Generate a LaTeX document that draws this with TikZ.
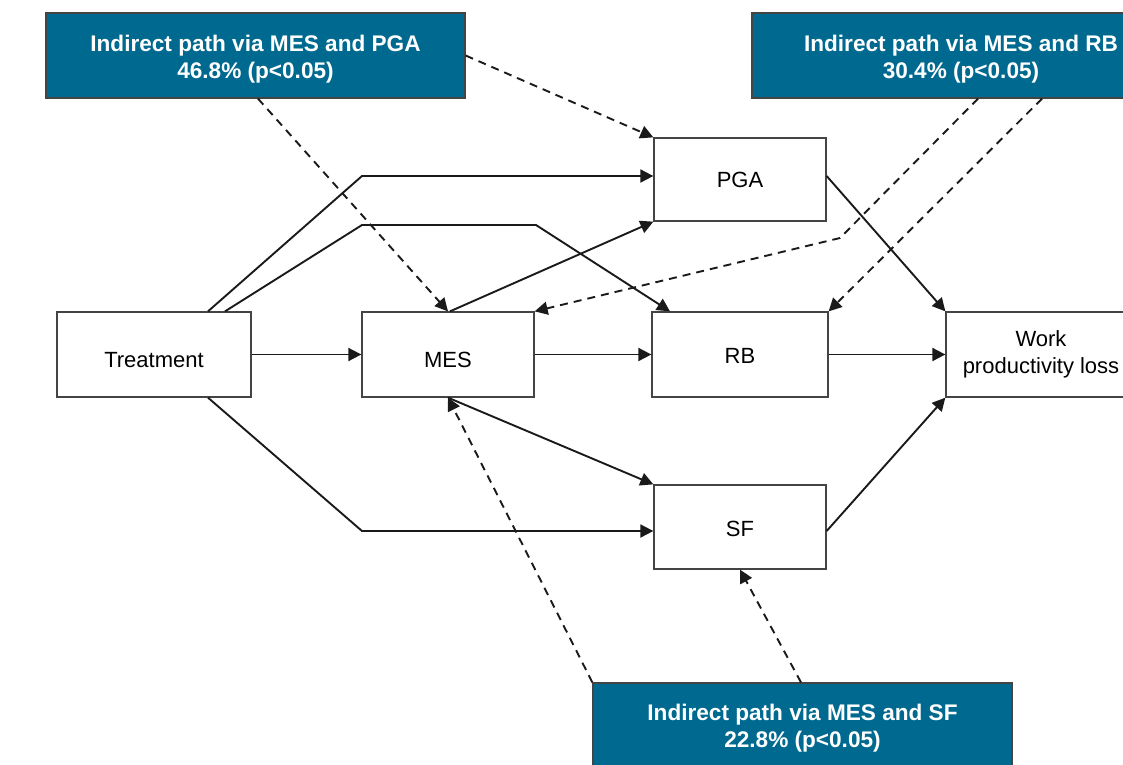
\documentclass[tikz,border=0pt]{standalone}
\usepackage{fontspec}
\setmainfont{Liberation Sans}
\usetikzlibrary{arrows.meta}
\definecolor{boxblue}{HTML}{00698F}
\definecolor{edgegray}{HTML}{444444}
\definecolor{linecol}{HTML}{1A1A1A}
\newcommand{\lowerby}[1]{\rule{0pt}{#1}}
\begin{document}
\begin{tikzpicture}[x=1pt,y=-1pt,
  varbox/.style={draw=edgegray,line width=1.3pt,fill=white,rectangle,inner sep=0pt,
    minimum height=85pt,align=center,font=\fontsize{22}{27}\selectfont},
  infobox/.style={draw=edgegray,line width=1.3pt,fill=boxblue,rectangle,inner sep=0pt,
    minimum width=419pt,minimum height=85pt,align=center,text=white,
    font=\bfseries\fontsize{22.6}{27}\selectfont},
  conn/.style={draw=linecol,line width=1.9pt,-{Triangle[length=13pt,width=13pt]}},
  dconn/.style={conn,dash pattern=on 8pt off 6pt}]
\useasboundingbox (0,0) rectangle (1123,764);
\clip (0,0) rectangle (1123,764);
% variable boxes
\node[varbox,minimum width=194pt] (T) at (154,354.5) {\lowerby{26pt}Treatment};
\node[varbox,minimum width=172pt] (MES) at (448,354.5) {\lowerby{26pt}MES};
\node[varbox,minimum width=172pt,minimum height=83pt] (PGA) at (740,179.5) {PGA};
\node[varbox,minimum width=176pt] (RB) at (740,354.5) {\lowerby{18pt}RB};
\node[varbox,minimum width=172pt,minimum height=84pt] (SF) at (740,527) {\lowerby{19pt}SF};
\node[varbox,minimum width=190pt] (W) at (1041,354.5) {Work\\productivity loss};
% info boxes
\node[infobox] (TL) at (255.5,55.5) {\lowerby{24.5pt}Indirect path via MES and PGA\\46.8\% (p<0.05)};
\node[infobox,minimum width=418pt] (TR) at (961,55.5) {\lowerby{24.5pt}Indirect path via MES and RB\\30.4\% (p<0.05)};
\node[infobox] (BB) at (802.5,725.5) {\lowerby{22.5pt}Indirect path via MES and SF\\22.8\% (p<0.05)};
% bend points
\coordinate (b1) at (362,176);
\coordinate (b2) at (362,225);
\coordinate (b3) at (536,225);
\coordinate (b4) at (362,531);
\coordinate (b5) at (840,238);
% solid connectors
\draw[conn] ([xshift=54pt]T.north) -- (b1) -- ([yshift=3.5pt]PGA.west);
\draw[conn] ([xshift=71pt]T.north) -- (b2) -- (b3) -- ([xshift=-70pt]RB.north);
\draw[conn] (T.east) -- (MES.west);
\draw[conn] ([xshift=54pt]T.south) -- (b4) -- ([yshift=-4pt]SF.west);
\draw[conn] ([xshift=2pt]MES.north) -- (PGA.south west);
\draw[conn] (MES.east) -- (RB.west);
\draw[conn] (MES.south) -- (SF.north west);
\draw[conn] ([yshift=3.5pt]PGA.east) -- (W.north west);
\draw[conn] (RB.east) -- (W.west);
\draw[conn] ([yshift=-4pt]SF.east) -- (W.south west);
% dashed connectors
\draw[dconn] (TL.east) -- (PGA.north west);
\draw[dconn] ([xshift=2.5pt]TL.south) -- (MES.north);
\draw[dconn] ([xshift=17pt]TR.south) -- (b5) -- (MES.north east);
\draw[dconn] ([xshift=81pt]TR.south) -- (RB.north east);
\draw[dconn] (BB.north west) -- (MES.south);
\draw[dconn] ([xshift=-1.5pt]BB.north) -- (SF.south);
\end{tikzpicture}
\end{document}
